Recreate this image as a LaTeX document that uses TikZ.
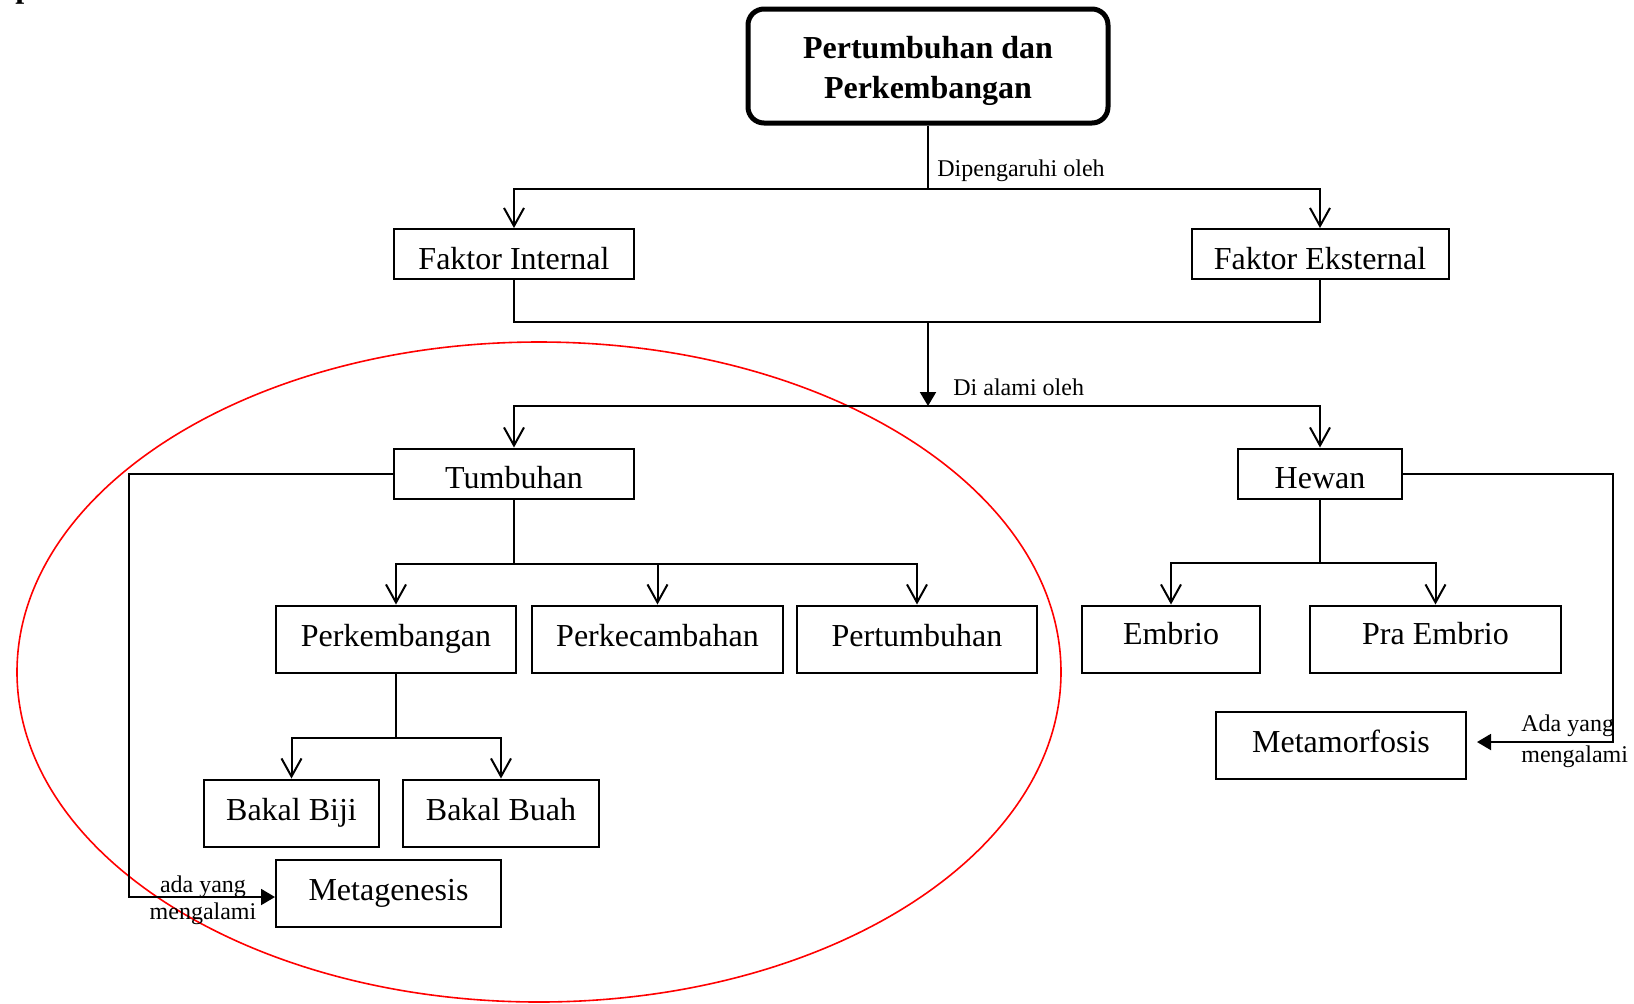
\documentclass[tikz,border=0pt]{standalone}
\usepackage{fontspec}
\setmainfont{Liberation Serif}
\usetikzlibrary{arrows.meta}

\begin{document}
\begin{tikzpicture}[x=0.5pt, y=-0.5pt,
  box/.style={draw, line width=1pt, inner sep=0pt, minimum height=25pt, text height=15pt, text depth=0pt, font=\fontsize{16}{19}\selectfont},
  tallbox/.style={box, minimum height=33.5pt, text height=11pt, text depth=3.8pt},
  highbox/.style={tallbox, text depth=5.6pt},
  headbox/.style={draw, line width=2.5pt, rounded corners=8pt, align=center, minimum width=180pt, minimum height=57pt, font=\fontsize{16}{20.2}\selectfont\bfseries},
  lbl/.style={inner sep=0pt, font=\fontsize{12}{14}\selectfont},
  link/.style={line width=1pt},
  barb/.style={link, -{Straight Barb[length=9pt,width=10pt]}},
  tri/.style={link, -{Triangle[length=7pt,width=8pt]}}
]
\useasboundingbox (0,0) rectangle (1634,1003);

% red ring round the plant branch
\draw[red, line width=0.8pt] (539,672) ellipse [x radius=261pt, y radius=165pt];

\node[anchor=base west, inner sep=0pt, font=\fontsize{16}{19}\selectfont\bfseries] (cut) at (15,-3) {p};

% boxes
\node[headbox] (top) at (928,66) {\rule{0pt}{16pt}Pertumbuhan dan\\Perkembangan};
\node[box, minimum width=120pt] (intern) at (514,254) {Faktor Internal};
\node[box, minimum width=128.5pt] (extern) at (1320,254) {Faktor Eksternal};
\node[box, minimum width=120pt] (tumb) at (514,473.5) {Tumbuhan};
\node[box, minimum width=82pt] (hewan) at (1320,473.5) {Hewan};
\node[tallbox, minimum width=120pt] (kembang) at (396,639) {Perkembangan};
\node[tallbox, minimum width=125.5pt] (kecambah) at (657.5,639) {Perkecambahan};
\node[tallbox, minimum width=120pt] (tumbuh) at (917,639) {Pertumbuhan};
\node[highbox, minimum width=89pt] (embrio) at (1171,639) {Embrio};
\node[highbox, minimum width=125.5pt] (praembrio) at (1435.5,639) {Pra Embrio};
\node[tallbox, minimum width=125pt] (metamorf) at (1341,745) {Metamorfosis};
\node[tallbox, minimum width=87.5pt] (biji) at (291.5,813) {Bakal Biji};
\node[tallbox, minimum width=98pt] (buah) at (501,813) {Bakal Buah};
\node[tallbox, minimum width=112.5pt] (metagen) at (388.5,893) {Metagenesis};

% junctions
\coordinate (j1) at (928,189);
\coordinate (j2) at (928,322);
\coordinate (j3) at (928,406);
\coordinate (j4) at (514,564);
\coordinate (j5) at (396,738);
\coordinate (j6) at (1320,563);
\coordinate (lc) at (129,897);
\coordinate (rc) at (1613,742);

% connectors
\draw[link] (top) -- (j1);
\draw[barb] (j1) -| (intern);
\draw[barb] (j1) -| (extern);
\node[lbl, anchor=west] (l1) at (937,171) {Dipengaruhi oleh};

\draw[link] (intern) |- (j2) -| (extern);
\draw[tri] (j2) -- (j3);
\node[lbl, anchor=west] (l2) at (953,387) {Di alami oleh};
\draw[barb] (j3) -| (tumb);
\draw[barb] (j3) -| (hewan);

\draw[link] (tumb) -- (j4);
\draw[barb] (j4) -| (kembang);
\draw[barb] (j4) -| (kecambah);
\draw[barb] (j4) -| (tumbuh);

\draw[link] (kembang) -- (j5);
\draw[barb] (j5) -| (biji);
\draw[barb] (j5) -| (buah);

\draw[link] (hewan) -- (j6);
\draw[barb] (j6) -| (embrio);
\draw[barb] (j6) -| (praembrio);

\draw[tri] (tumb.west) -| (lc) -- (metagen.west |- lc);
\node[lbl, align=center, font=\fontsize{12}{13.5}\selectfont] (l3) at (203,900) {ada yang\\mengalami};

\draw[tri, shorten >=5pt] (hewan.east) -| (rc) -- (metamorf.east |- rc);
\node[lbl, align=left, anchor=west, font=\fontsize{12}{15.5}\selectfont] (l4) at (1521,741) {Ada yang\\mengalami};
\end{tikzpicture}
\end{document}
